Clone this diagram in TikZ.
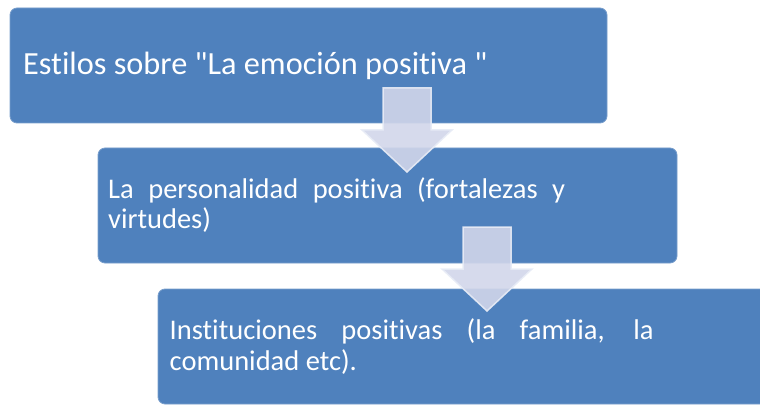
\documentclass[tikz,border=0pt]{standalone}
\usepackage{fontspec}
\setmainfont{Carlito}[Ligatures={TeXOff,NoCommon}]
\definecolor{boxblue}{RGB}{79,129,189}
\definecolor{boxedge}{RGB}{120,158,204}
\definecolor{arrowfill}{RGB}{209,214,234}
\definecolor{arrowedge}{RGB}{232,236,246}
\tikzset{
  box/.style={fill=boxblue, draw=boxedge, line width=0.8pt, rounded corners=7pt},
  txt/.style={text=white, inner sep=0pt, anchor=base west},
  bigtxt/.style={txt, font=\fontsize{32.3}{38}\selectfont},
  midtxt/.style={txt, font=\fontsize{28.5}{34}\selectfont},
  blockarrow/.style={fill=arrowfill, fill opacity=0.9, draw=arrowedge, draw opacity=0.9, line width=1.5pt, line join=miter}
}
\begin{document}
\begin{tikzpicture}[x=1pt,y=-1pt]
\useasboundingbox (0,0) rectangle (760,406);
\clip (0,0) rectangle (760,406);
% boxes
\draw[box] (10,8) rectangle (607,123);
\node[inner sep=0pt] (b1) at (308.5,65.5) {};
\draw[box] (98,148) rectangle (677,263);
\node[inner sep=0pt] (b2) at (387.5,205.5) {};
\draw[box] (158,289) rectangle (790,404);
\node[inner sep=0pt] (b3) at (474,346.5) {};
% texts
\node[bigtxt] (t1) at (23,75) {Estilos sobre "La emoción positiva "};
\node[midtxt] (t2a) at (108,199) {\makebox[457pt][s]{La personalidad positiva (fortalezas y}};
\node[midtxt] (t2b) at (108,229) {virtudes)};
\node[midtxt] (t3a) at (169.5,339) {\makebox[484pt][s]{Instituciones positivas (la familia, la}};
\node[midtxt] (t3b) at (169.5,370) {comunidad etc).};
% block arrows
\draw[blockarrow] (383,88) -- (431,88) -- (431,130) -- (452,130) -- (407,172) -- (362,130) -- (383,130) -- cycle;
\draw[blockarrow] (463,227) -- (511,227) -- (511,269) -- (532,269) -- (487,311) -- (442,269) -- (463,269) -- cycle;
\end{tikzpicture}
\end{document}
